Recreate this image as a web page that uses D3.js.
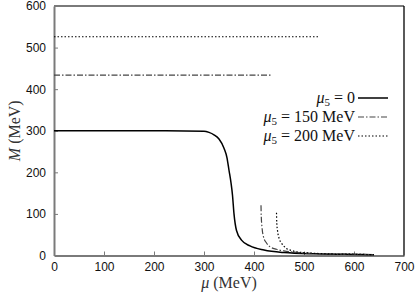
<!DOCTYPE html>
<html><head><meta charset="utf-8">
<script src="https://cdn.jsdelivr.net/npm/d3@7"></script>
<style>body{margin:0;background:#fff}svg{display:block}</style>
</head><body>
<svg id="c" width="420" height="298"></svg>
<script>
const xTicks = [0,100,200,300,400,500,600,700];
const yTicks = [0,100,200,300,400,500,600];

// mu5 = 0
const mu0 = [0,100,200,300,310,320,330,340,346,350,354,357,360,365,375,392,420,460,520,580,640];
const M0  = [300,300,300,299,296,290,280,258,235,205,175,145,100,60,37,23,13,7,4,3,2];
// mu5 = 150 MeV
const mu150 = [414,414.5,416,419,425,432,445,460,490,540,600,640];
const M150  = [121,95,68,45,30,21,15,11,7,4,3,2];
const flat150Mu = [0,435];
const flat150M  = [434,434];
// mu5 = 200 MeV
const mu200 = [445,445.5,447,450,455,465,475,485,510,550,600,640];
const M200  = [103,80,60,42,30,17,12,9,6,4,3,2];
const flat200Mu = [0,528];
const flat200M  = [526,526];

const legendLabels = ["0","150 MeV","200 MeV"];

const svg = d3.select("#c");
const L=54,R=404,T=6,B=255.5;
const x = d3.scaleLinear().domain([0,700]).range([L,R]);
const y = d3.scaleLinear().domain([0,600]).range([B,T]);
const grey="#7a7a7a";

// axes
const xa = svg.append("g").attr("transform",`translate(0,${B})`)
  .call(d3.axisBottom(x).tickValues(xTicks).tickSizeInner(-4).tickSizeOuter(0).tickPadding(7));
const ya = svg.append("g").attr("transform",`translate(${L},0)`)
  .call(d3.axisLeft(y).tickValues(yTicks).tickSizeInner(-4).tickSizeOuter(0).tickPadding(8));
[xa,ya].forEach(g=>{
  g.select(".domain").attr("stroke",grey).attr("stroke-width",2);
  g.selectAll(".tick line").attr("stroke",grey).attr("stroke-width",1);
  g.selectAll(".tick text").attr("font-family","Liberation Sans, Arial, sans-serif").attr("font-size",12).attr("fill","#111");
});
xa.selectAll(".tick").filter(d=>d===0||d===700).select("line").remove();
ya.selectAll(".tick").filter(d=>d===0||d===600).select("line").remove();
// top & right frame
svg.append("line").attr("x1",L).attr("x2",R).attr("y1",T).attr("y2",T).attr("stroke",grey).attr("stroke-width",2);
svg.append("line").attr("x1",R).attr("x2",R).attr("y1",T).attr("y2",B).attr("stroke","#000").attr("stroke-width",1.3);

const line = d3.line().x(d=>x(d[0])).y(d=>y(d[1])).curve(d3.curveMonotoneX);
const zip=(a,b)=>a.map((v,i)=>[v,b[i]]);

const styles = [
  {stroke:"#000", dash:null, w:1.5},
  {stroke:"#444", dash:"6,2,1.5,2", w:1.2},
  {stroke:"#000", dash:"1.5,2", w:1.2}
];
const g = svg.append("g").attr("fill","none");
g.append("path").attr("d",line(zip(mu0,M0))).attr("stroke",styles[0].stroke).attr("stroke-width",styles[0].w);
g.append("path").attr("d",line(zip(flat150Mu,flat150M))).attr("stroke",styles[1].stroke).attr("stroke-width",styles[1].w).attr("stroke-dasharray",styles[1].dash);
g.append("path").attr("d",line(zip(mu150,M150))).attr("stroke",styles[1].stroke).attr("stroke-width",styles[1].w).attr("stroke-dasharray",styles[1].dash);
g.append("path").attr("d",line(zip(flat200Mu,flat200M))).attr("stroke",styles[2].stroke).attr("stroke-width",styles[2].w).attr("stroke-dasharray",styles[2].dash);
g.append("path").attr("d",line(zip(mu200,M200))).attr("stroke",styles[2].stroke).attr("stroke-width",styles[2].w).attr("stroke-dasharray",styles[2].dash);

// legend
const leg = svg.append("g");
legendLabels.forEach((lab,i)=>{
  const yy = 98 + i*19;
  const t = leg.append("text").attr("x",355).attr("y",yy+5).attr("text-anchor","end")
    .attr("font-family","Liberation Serif, serif").attr("font-size",16).attr("fill","#111");
  t.append("tspan").attr("font-style","italic").text("μ");
  t.append("tspan").attr("font-size",11).attr("dy",3).text("5");
  t.append("tspan").attr("dy",-3).text(" = "+lab);
  leg.append("line").attr("x1",358).attr("x2",388).attr("y1",yy).attr("y2",yy)
    .attr("stroke",styles[i].stroke).attr("stroke-width",styles[i].w)
    .attr("stroke-dasharray",styles[i].dash);
});

// axis titles
const xt = svg.append("text").attr("x",(L+R)/2).attr("y",288).attr("text-anchor","middle")
  .attr("font-family","Liberation Serif, serif").attr("font-size",16).attr("fill","#333");
xt.append("tspan").attr("font-style","italic").text("μ");
xt.append("tspan").text(" (MeV)");
const yt = svg.append("text").attr("transform",`translate(20,${(T+B)/2}) rotate(-90)`).attr("text-anchor","middle")
  .attr("font-family","Liberation Serif, serif").attr("font-size",16).attr("fill","#333");
yt.append("tspan").attr("font-style","italic").text("M");
yt.append("tspan").text(" (MeV)");
</script>
</body></html>
